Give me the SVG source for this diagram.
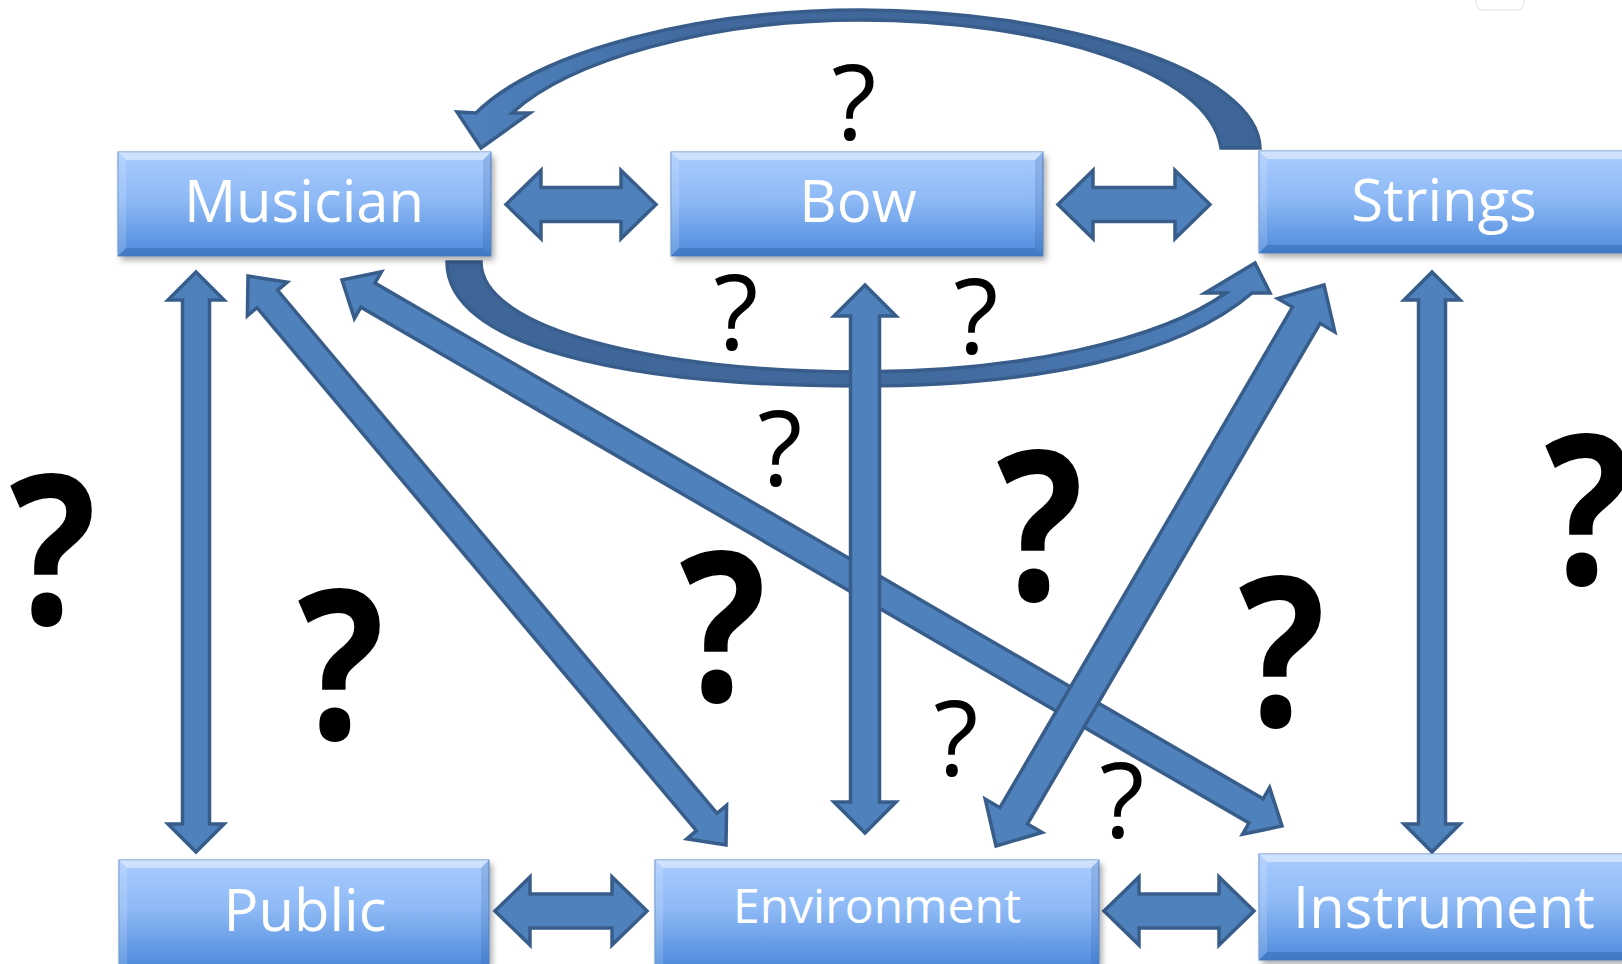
<svg xmlns="http://www.w3.org/2000/svg" width="1622" height="964" viewBox="0 0 1622 964">
<defs>
<linearGradient id="boxFill" x1="0" y1="0" x2="0" y2="1">
<stop offset="0" stop-color="#A9CCFE"/>
<stop offset="0.45" stop-color="#8FBAF6"/>
<stop offset="1" stop-color="#4F8BDC"/>
</linearGradient>
<linearGradient id="arcTop" gradientUnits="userSpaceOnUse" x1="460" y1="0" x2="1260" y2="0">
<stop offset="0" stop-color="#4F81BD"/>
<stop offset="0.12" stop-color="#4A7AB4"/>
<stop offset="0.3" stop-color="#41699D"/>
<stop offset="1" stop-color="#3E6597"/>
</linearGradient>
<linearGradient id="arcBot" gradientUnits="userSpaceOnUse" x1="447" y1="0" x2="1270" y2="0">
<stop offset="0" stop-color="#3E6597"/>
<stop offset="0.6" stop-color="#416A9E"/>
<stop offset="0.85" stop-color="#4A7AB4"/>
<stop offset="1" stop-color="#4F81BD"/>
</linearGradient>
<filter id="shadow" x="-10%" y="-20%" width="120%" height="150%">
<feGaussianBlur stdDeviation="3"/>
</filter>
</defs>
<style>
.arrow{fill:#4F81BD;stroke:#385D8A;stroke-width:3.5;stroke-linejoin:miter}
.box{fill:url(#boxFill);stroke:#5A8BCB;stroke-width:1}
.shd{fill:#000;opacity:0.35;filter:url(#shadow)}
.bt{fill:#fff;opacity:0.45}
.bb{fill:#1F4F95;opacity:0.3}
.bl{fill:#fff;opacity:0.15}
.br{fill:#1F4F95;opacity:0.18}
.lbl{font-family:"Open Sans","Noto Sans","Liberation Sans",sans-serif;font-size:58px;fill:#fff;text-anchor:middle}
.q{font-family:"Open Sans","Noto Sans","Liberation Sans",sans-serif;fill:#000;text-anchor:middle}
.qs{font-size:104px;font-weight:400}
.qb{font-size:208px;font-weight:700}
</style>
<rect width="1622" height="964" fill="#fff"/>
<rect x="1476" y="-12" width="48" height="22" rx="7" fill="none" stroke="#ececec" stroke-width="1.5"/>

<g id="connectors">
<path id="arc-top" d="M 1260,148 C 1258,70 1060,10 860,10 C 700,10 540,50 476,113 L 457,112 L 481,148 L 530,113 L 512,113 C 570,60 710,20 860,20 C 1040,20 1210,70 1221,148 Z" fill="url(#arcTop)" stroke="#385D8A" stroke-width="3.5" stroke-linejoin="miter"/>
<path id="arc-bottom" d="M 447,262 L 481,262 C 481,330 660,372 860,372 C 1020,372 1160,340 1226,293 L 1205,293 L 1255,263 L 1270,293 L 1252,293 C 1180,355 1040,386 860,386 C 620,386 447,345 447,262 Z" fill="url(#arcBot)" stroke="#385D8A" stroke-width="3.5" stroke-linejoin="miter"/>
<polygon class="arrow" points="506,204.5 541,170.5 541,187.5 621,187.5 621,170.5 656,204.5 621,238.5 621,221.5 541,221.5 541,238.5"/>
<polygon class="arrow" points="1058,204.5 1093,170.5 1093,187.5 1175,187.5 1175,170.5 1210,204.5 1175,238.5 1175,221.5 1093,221.5 1093,238.5"/>
<polygon class="arrow" points="495,911 530,877 530,894 612,894 612,877 647,911 612,945 612,928 530,928 530,945"/>
<polygon class="arrow" points="1104,911 1139,877 1139,894 1219,894 1219,877 1254,911 1219,945 1219,928 1139,928 1139,945"/>
<polygon class="arrow" points="196,272 224,300 209.5,300 209.5,824 224,824 196,852 168,824 182.5,824 182.5,300 168,300"/>
<polygon class="arrow" points="1432,272 1460,300 1445.5,300 1445.5,824 1460,824 1432,852 1404,824 1418.5,824 1418.5,300 1404,300"/>
<polygon class="arrow" points="248,276 287.2,282.2 277.6,290.3 717.0,813.4 726.6,805.3 726,845 686.8,838.8 696.4,830.7 257.0,307.7 247.4,315.7"/>
<polygon class="arrow" points="342,280 381.5,271.7 375.0,283.0 1263.1,798.8 1269.6,787.6 1282,826 1242.5,834.3 1249.0,823.0 360.9,307.2 354.4,318.4"/>
<polygon class="arrow" points="865,285 896,316 879.5,316 879.5,802 896,802 865,833 834,802 850.5,802 850.5,316 834,316"/>
<polygon class="arrow" points="1324,285 1334.8,331.9 1320.1,323.3 1027.5,823.9 1042.2,832.4 996,846 985.2,799.1 999.9,807.7 1292.5,307.1 1277.8,298.6"/>
</g>

<g id="node-musician">
<rect class="shd" x="121" y="156" width="373" height="104"/>
<rect class="box" x="118" y="152" width="373" height="104"/>
<polygon class="bt" points="118,152 491,152 483,160 126,160"/>
<polygon class="bb" points="118,256 491,256 483,248 126,248"/>
<polygon class="bl" points="118,152 126,160 126,248 118,256"/>
<polygon class="br" points="491,152 483,160 483,248 491,256"/>
<text class="lbl" x="304" y="222">Musician</text>
</g>
<g id="node-bow">
<rect class="shd" x="674" y="156" width="372" height="104"/>
<rect class="box" x="671" y="152" width="372" height="104"/>
<polygon class="bt" points="671,152 1043,152 1035,160 679,160"/>
<polygon class="bb" points="671,256 1043,256 1035,248 679,248"/>
<polygon class="bl" points="671,152 679,160 679,248 671,256"/>
<polygon class="br" points="1043,152 1035,160 1035,248 1043,256"/>
<text class="lbl" x="858" y="222">Bow</text>
</g>
<g id="node-strings">
<rect class="shd" x="1262" y="155" width="372" height="102"/>
<rect class="box" x="1259" y="151" width="372" height="102"/>
<polygon class="bt" points="1259,151 1631,151 1623,159 1267,159"/>
<polygon class="bb" points="1259,253 1631,253 1623,245 1267,245"/>
<polygon class="bl" points="1259,151 1267,159 1267,245 1259,253"/>
<text class="lbl" x="1444" y="221">Strings</text>
</g>
<g id="node-public">
<rect class="shd" x="122" y="864" width="370" height="104"/>
<rect class="box" x="119" y="860" width="370" height="106"/>
<polygon class="bt" points="119,860 489,860 481,868 127,868"/>
<polygon class="bl" points="119,860 127,868 127,966 119,966"/>
<polygon class="br" points="489,860 481,868 481,966 489,966"/>
<text class="lbl" x="305" y="931">Public</text>
</g>
<g id="node-environment">
<rect class="shd" x="658" y="864" width="444" height="104"/>
<rect class="box" x="655" y="860" width="444" height="106"/>
<polygon class="bt" points="655,860 1099,860 1091,868 663,868"/>
<polygon class="bl" points="655,860 663,868 663,966 655,966"/>
<polygon class="br" points="1099,860 1091,868 1091,966 1099,966"/>
<text class="lbl" x="877" y="923" style="font-size:48px">Environment</text>
</g>
<g id="node-instrument">
<rect class="shd" x="1262" y="858" width="372" height="106"/>
<rect class="box" x="1259" y="854" width="372" height="106"/>
<polygon class="bt" points="1259,854 1631,854 1623,862 1267,862"/>
<polygon class="bb" points="1259,960 1631,960 1623,952 1267,952"/>
<polygon class="bl" points="1259,854 1267,862 1267,952 1259,960"/>
<text class="lbl" x="1444" y="928">Instrument</text>
</g>

<g id="questions">
<text class="q qs" x="854" y="140">?</text>
<text class="q qs" x="736" y="350">?</text>
<text class="q qs" x="976" y="354">?</text>
<text class="q qs" x="780" y="486">?</text>
<text class="q qs" x="956" y="776">?</text>
<text class="q qs" x="1122" y="838">?</text>
<text class="q qb" transform="translate(53,624) scale(0.87,1)">?</text>
<text class="q qb" transform="translate(341,739) scale(0.87,1)">?</text>
<text class="q qb" transform="translate(723,701) scale(0.87,1)">?</text>
<text class="q qb" transform="translate(1040,600) scale(0.87,1)">?</text>
<text class="q qb" transform="translate(1282,726) scale(0.87,1)">?</text>
<text class="q qb" transform="translate(1588,584) scale(0.87,1)">?</text>
</g>
</svg>
